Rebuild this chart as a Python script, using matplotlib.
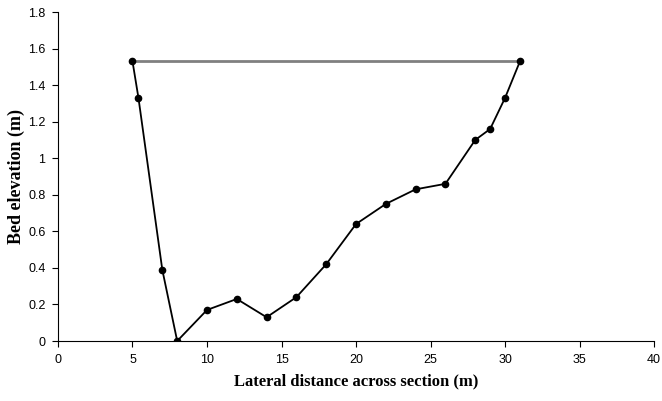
import numpy as np
import matplotlib
matplotlib.use('Agg')
import matplotlib.pyplot as plt

# Perfil do leito
x_leito = [5, 5.4, 7, 8, 10, 12, 14, 16, 18, 20, 22, 24, 26, 28, 29, 30, 31]
y_leito = [1.53, 1.33, 0.39, 0.0, 0.17, 0.23, 0.13, 0.24, 0.42, 0.64,
           0.75, 0.83, 0.86, 1.10, 1.16, 1.33, 1.53]

# Nível da água
x_agua = [5, 31]
y_agua = [1.53, 1.53]

x_ticks = [0, 5, 10, 15, 20, 25, 30, 35, 40]
y_ticks = [0, 0.2, 0.4, 0.6, 0.8, 1, 1.2, 1.4, 1.6, 1.8]

fig = plt.figure(figsize=(6.62, 4.01), dpi=100)
ax = fig.add_axes([0.0876, 0.1496, 0.9004, 0.8204])

ax.plot(x_agua, y_agua, color='#808080', lw=2, zorder=2)
ax.plot(x_leito, y_leito, color='black', lw=1.3, marker='o', ms=4.5, zorder=3)

ax.set_xlim(0, 40)
ax.set_ylim(0, 1.8)
ax.set_xticks(x_ticks)
ax.set_yticks(y_ticks)
ax.set_xticklabels([str(t) for t in x_ticks], fontfamily='Liberation Sans', fontsize=9)
ax.set_yticklabels(['{:g}'.format(t) for t in y_ticks], fontfamily='Liberation Sans', fontsize=9)
ax.tick_params(direction='out', length=4, width=0.8, pad=5)

for s in ['top', 'right']:
    ax.spines[s].set_visible(False)

ax.set_xlabel('Lateral distance across section (m)', fontfamily='Liberation Serif',
              fontweight='bold', fontsize=12, labelpad=6)
ax.set_ylabel('Bed elevation (m)', fontfamily='Liberation Serif',
              fontweight='bold', fontsize=13, labelpad=2)

fig.savefig('out.png', dpi=100)
